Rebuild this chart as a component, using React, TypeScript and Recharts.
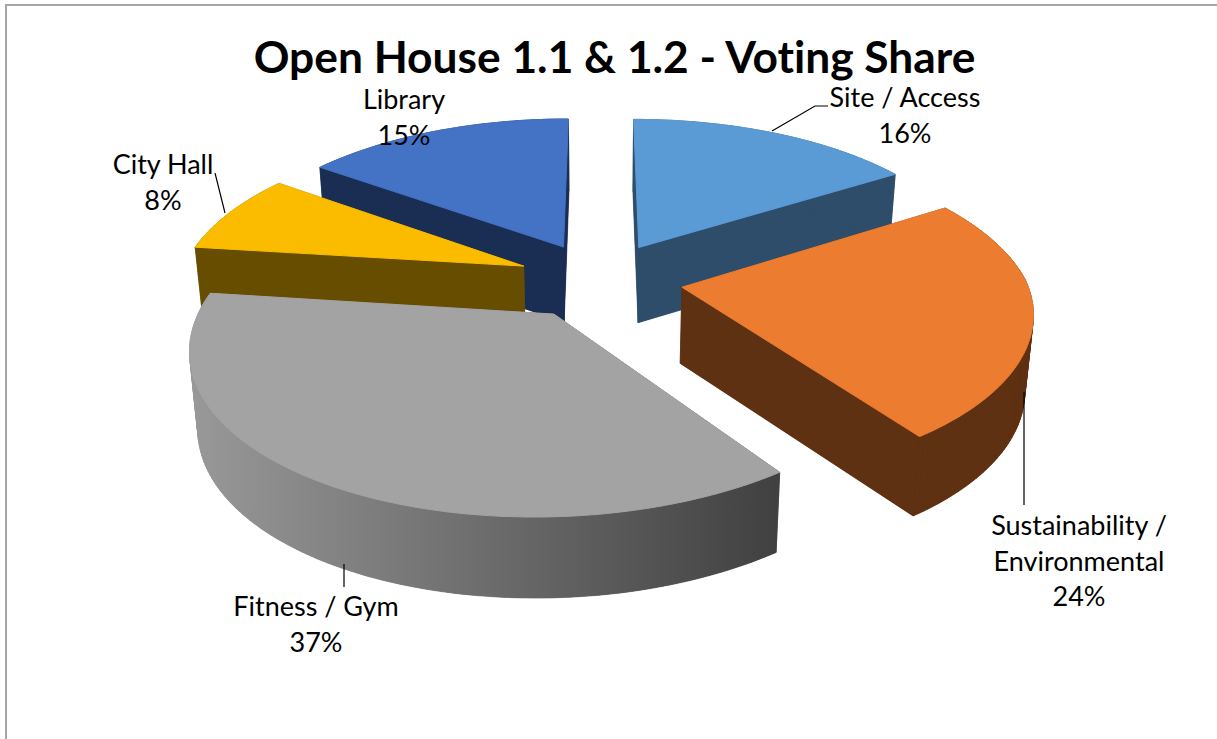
import React from "react"
import { PieChart, Pie } from "recharts"

// painted back to front and laid out counter-clockwise, so City Hall lands on top of Library
const categories = ["Site / Access", "Library", "City Hall", "Fitness / Gym", "Sustainability / Environmental"]
const shares = [16, 15, 8, 37, 24]
const topColors = ["#5B9BD5", "#4472C4", "#FBBC00", "#A3A3A3", "#EC7C30"]
const sideColors = ["#2E4D6B", "#1A2D52", "#664D00", "url(#fitnessSide)", "#5F3113"]

const data = categories.map((name, i) => ({
  name,
  value: shares[i],
  fill: topColors[i],
  sideFill: sideColors[i],
}))

const FONT = "Lato, 'Open Sans', sans-serif"
const RAD = Math.PI / 180

// fake 3D view of the pie
const TILT = 0.46
const PERSPECTIVE = 0.16
const DEPTH = 76
const EXPLODE = 0.242
const FRONT_SHEAR = 11

const labelLayout: Record<string, { x: number; y: number; leader?: string }> = {
  "City Hall": { x: 163, y: 174, leader: "M215 173 L225 213" },
  Library: { x: 404, y: 109 },
  "Site / Access": { x: 905, y: 107, leader: "M828 106 L815 106 L772 131" },
  "Sustainability / Environmental": { x: 1079, y: 535, leader: "M1024 392 L1024 505" },
  "Fitness / Gym": { x: 316, y: 616, leader: "M344 564 L344 587" },
}

function Slice3D(props: any) {
  const { cx, cy, outerRadius: R, startAngle, endAngle, fill } = props
  const sideFill = props.sideFill ?? props.payload?.sideFill
  const mid = ((startAngle + endAngle) / 2) * RAD
  const ox = Math.cos(mid) * EXPLODE
  const oy = Math.sin(mid) * EXPLODE

  const project = (X: number, Y: number, z: number) => {
    const w = 1 + PERSPECTIVE * Y
    const x = (R * X) / w + FRONT_SHEAR * Math.min(Y, 0)
    const y = cy - (R * TILT * Y) / w + (DEPTH * z) / Math.pow(w, 0.3)
    return [cx + x * (1 - 0.02 * z), y]
  }
  const pathOf = (pts: number[][]) => "M" + pts.map((p) => p[0].toFixed(1) + " " + p[1].toFixed(1)).join(" L") + " Z"

  const rim: number[][] = []
  const step = startAngle > endAngle ? -1 : 1
  for (let a = startAngle; step * (a - endAngle) < 0; a += step) rim.push([Math.cos(a * RAD) + ox, Math.sin(a * RAD) + oy])
  rim.push([Math.cos(endAngle * RAD) + ox, Math.sin(endAngle * RAD) + oy])

  const apex = [ox, oy]
  const top = [apex, ...rim].map((p) => project(p[0], p[1], 0))
  const bottom = [apex, ...rim].map((p) => project(p[0], p[1], 1))
  const walls = top.map((p, i) => {
    const j = (i + 1) % top.length
    return pathOf([p, top[j], bottom[j], bottom[i]])
  })

  return (
    <g>
      <path d={pathOf(bottom)} fill={sideFill} />
      {walls.map((d, i) => (
        <path key={i} d={d} fill={sideFill} stroke={sideFill} strokeWidth={0.6} />
      ))}
      <path d={pathOf(top)} fill={fill} stroke={fill} strokeWidth={1} />
    </g>
  )
}

function SliceLabel(props: any) {
  const name = props.name ?? props.payload?.name
  const spot = labelLayout[name]
  if (!spot) return null
  const lines = name.length > 15 ? name.replace(" / ", " /|").split("|") : [name]
  lines.push(`${props.value}%`)
  return (
    <g>
      {spot.leader && <path d={spot.leader} fill="none" stroke="#000" strokeWidth={1.2} />}
      <text
        x={spot.x}
        y={spot.y}
        textAnchor="middle"
        fontFamily={FONT}
        fontSize={27}
        fill="#000"
        style={{ fontVariantLigatures: "none" }}
      >
        {lines.map((line: string, i: number) => (
          <tspan key={i} x={spot.x} dy={i === 0 ? 0 : 35.5}>
            {line}
          </tspan>
        ))}
      </text>
    </g>
  )
}

export default function App() {
  return (
    <div style={{ position: "absolute", left: 0, top: 0, width: 1217, height: 739, background: "#fff" }}>
      <PieChart width={1217} height={739} margin={{ top: 0, right: 0, bottom: 0, left: 0 }}>
        <defs>
          <linearGradient id="fitnessSide" gradientUnits="userSpaceOnUse" x1="195" y1="0" x2="780" y2="0">
            <stop offset="0%" stopColor="#989898" />
            <stop offset="100%" stopColor="#404040" />
          </linearGradient>
        </defs>
        <path d="M6 739 L6 5 L1217 5" fill="none" stroke="#A6A6A6" strokeWidth={2} />
        <text
          x={614.5}
          y={73}
          textAnchor="middle"
          fontFamily={FONT}
          fontSize={44.3}
          fontWeight={700}
          fill="#000"
          style={{ fontVariantLigatures: "none" }}
        >
          Open House 1.1 &amp; 1.2 - Voting Share
        </text>
        <Pie
          data={data}
          dataKey="value"
          nameKey="name"
          cx={600}
          cy={280}
          innerRadius={0}
          outerRadius={344}
          startAngle={32.4}
          endAngle={392.4}
          stroke="none"
          shape={Slice3D}
          inactiveShape={Slice3D}
          label={SliceLabel}
          labelLine={false}
          isAnimationActive={false}
        />
      </PieChart>
    </div>
  )
}
